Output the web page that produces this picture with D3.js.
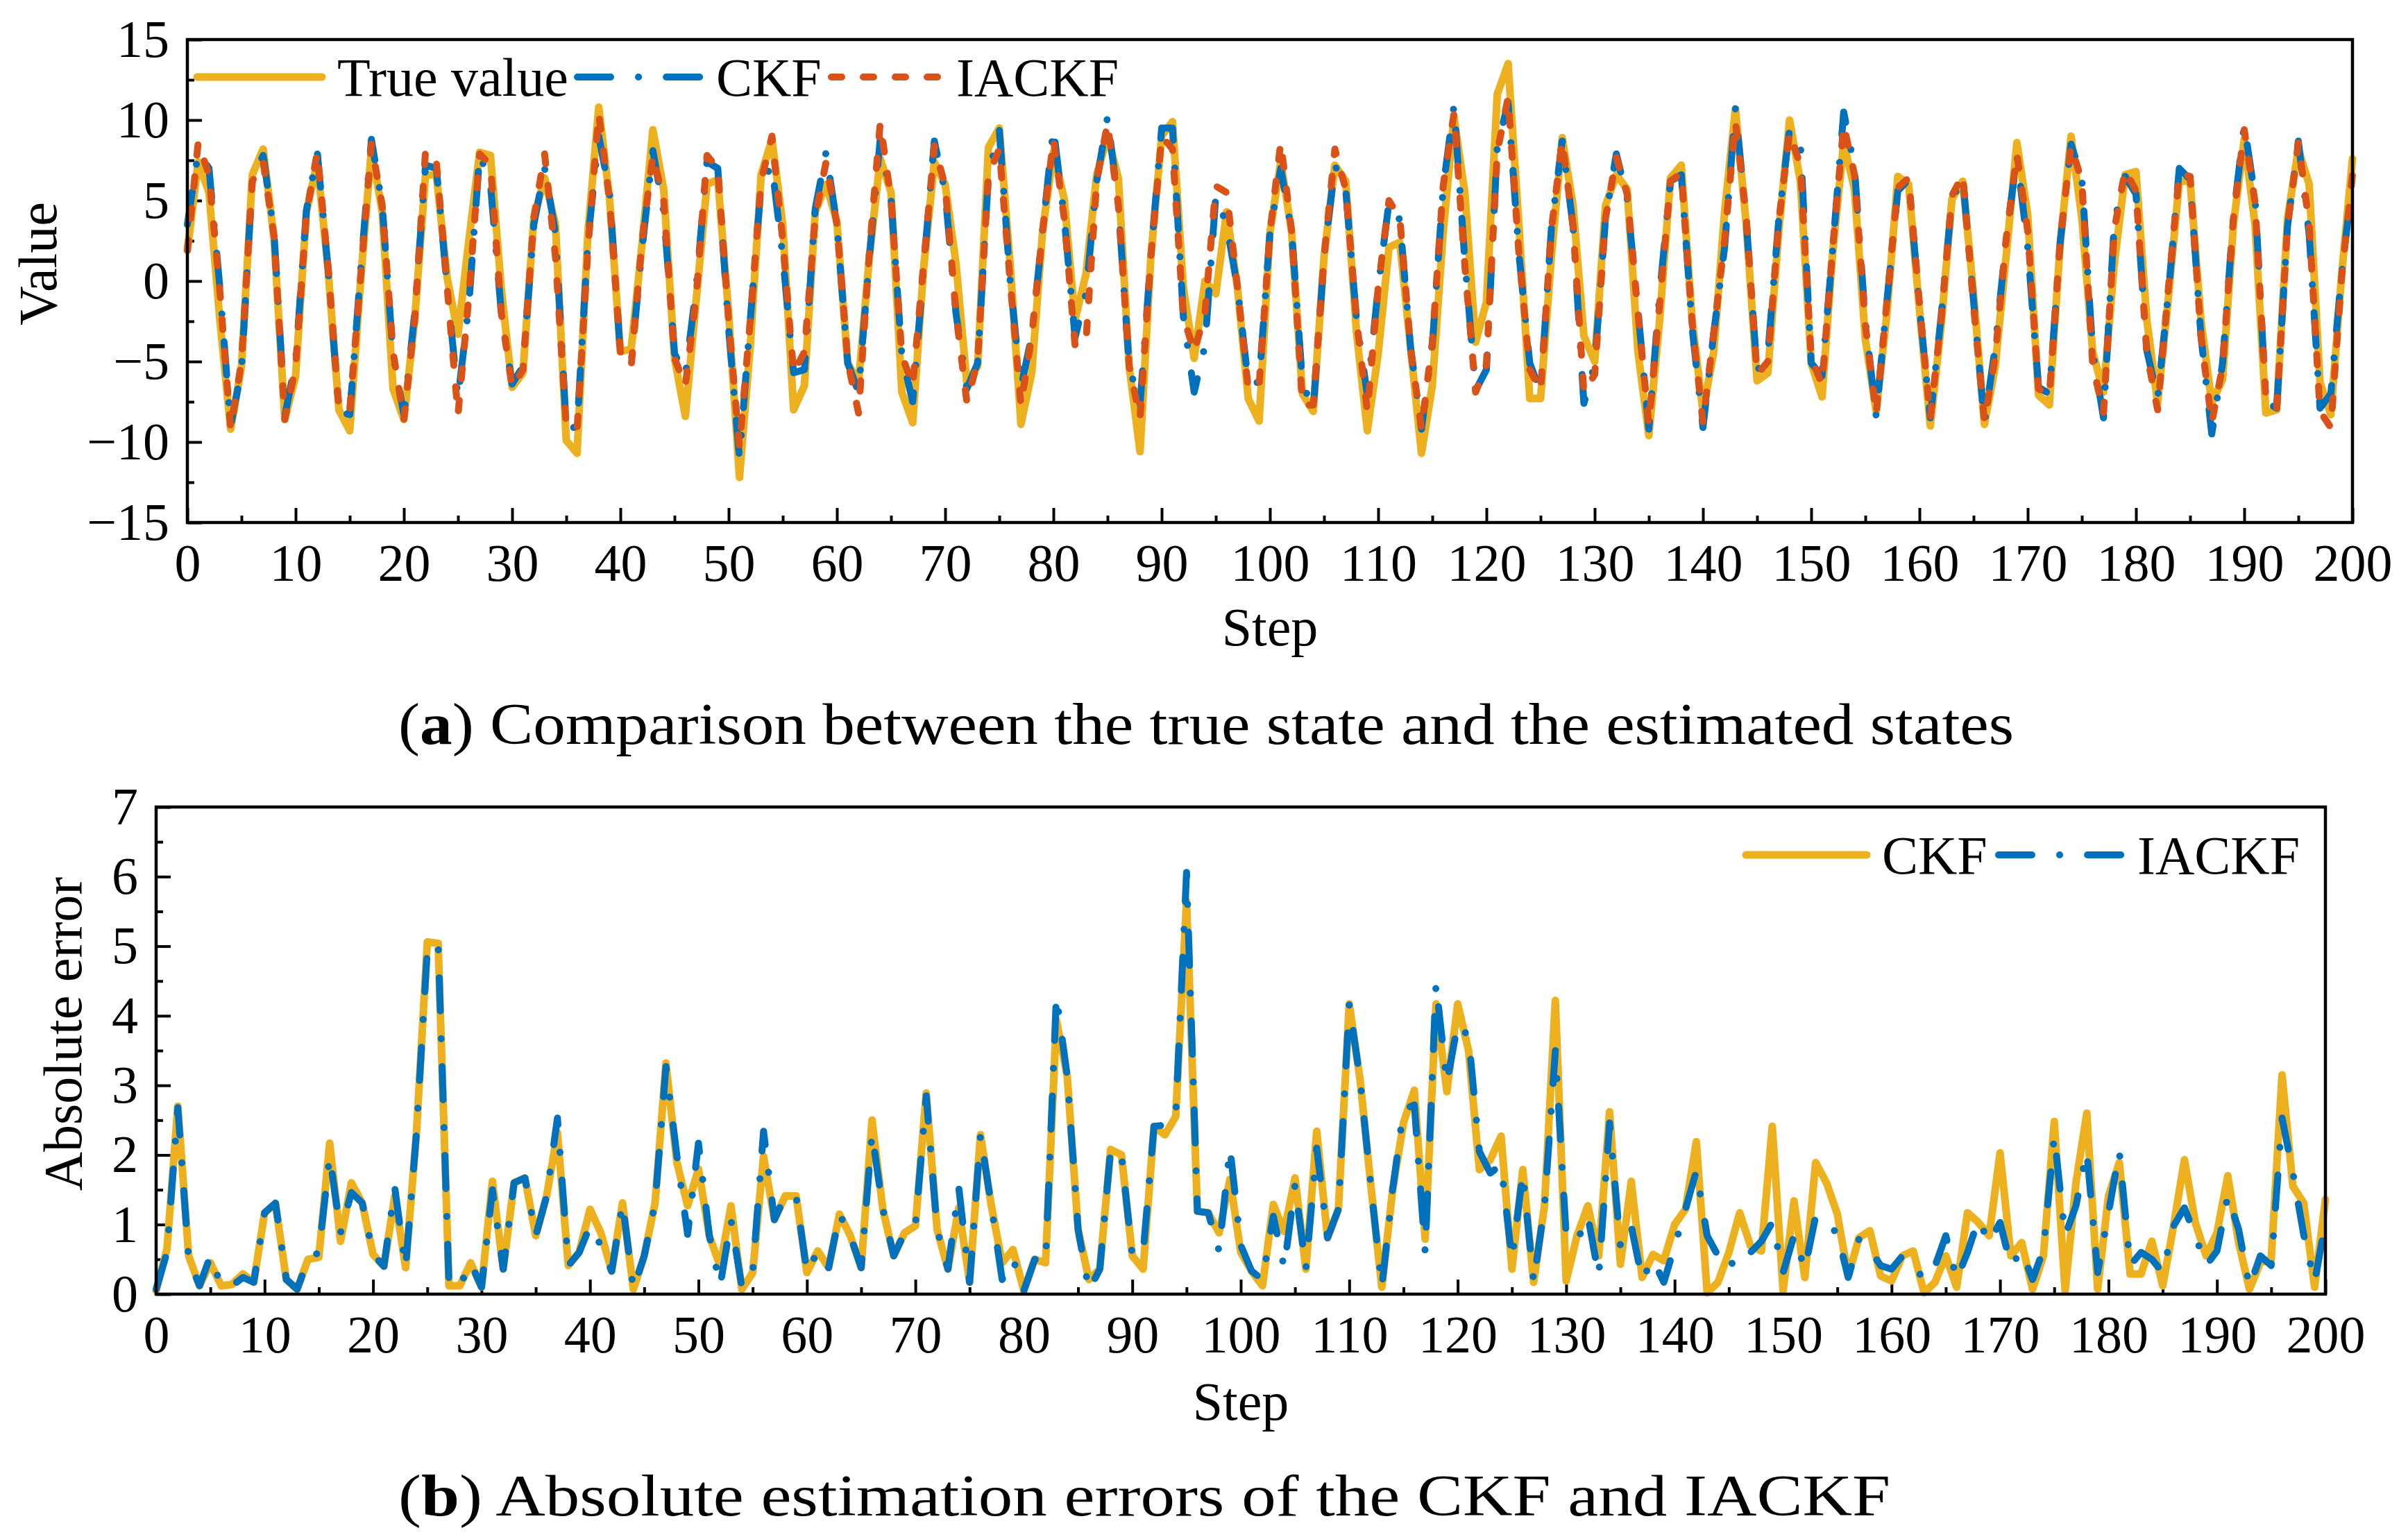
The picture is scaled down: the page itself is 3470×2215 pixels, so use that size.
<!DOCTYPE html>
<html lang="en">
<head>
<meta charset="utf-8">
<title>CKF vs IACKF</title>
<script src="https://d3js.org/d3.v7.min.js"></script>
<style>
  html, body { margin: 0; padding: 0; background: #fff; }
  svg { display: block; }
  .axis text { font-family: "Liberation Serif", "Times New Roman", serif; font-size: 76px; fill: #000; }
  .axis path, .axis line { stroke: #000; }
  .lbl { font-family: "Liberation Serif", "Times New Roman", serif; font-size: 78px; fill: #000; }
  .cap { font-family: "Liberation Serif", "Times New Roman", serif; font-size: 84px; fill: #000; }
</style>
</head>
<body>
<div id="graph"></div>
<script>
// ---- data ----
var steps = d3.range(0, 201);

var trueValue = [
  1.9, 7.4, 5.5, -2.4, -9.2, -5.3, 6.6, 8.2, 2.7, -8.6,
  -5.9, 4.3, 7.4, 0.7, -8.0, -9.3, 0.0, 8.2, 4.3, -6.7,
  -8.6, -2.4, 6.6, 6.6, 0.2, -3.3, 2.5, 8.0, 7.8, -0.5,
  -6.6, -5.7, 3.9, 6.4, 3.5, -9.9, -10.7, 3.0, 10.8, 5.1,
  -4.4, -4.2, 2.3, 9.4, 5.7, -4.8, -8.4, -1.2, 6.0, 6.3,
  -2.0, -12.2, -4.0, 6.6, 8.8, 3.5, -8.0, -6.5, 4.3, 6.0,
  3.7, -5.1, -6.3, 1.5, 7.6, 5.5, -6.9, -8.8, 0.7, 7.4,
  6.0, 1.1, -6.3, -5.3, 8.3, 9.5, 1.1, -8.9, -5.7, 3.1,
  8.0, 5.1, -2.4, 0.4, 6.6, 9.0, 6.4, -5.3, -10.6, 1.5,
  9.0, 9.9, -0.4, -4.8, 0.0, -0.8, 4.3, -0.4, -7.3, -8.7,
  3.0, 7.4, 3.1, -7.0, -8.1, 1.5, 7.2, 6.2, -3.2, -9.3,
  -4.5, 2.1, 2.4, -4.2, -10.7, -6.5, 3.0, 10.2, 5.5, -3.8,
  -1.3, 11.6, 13.5, 3.5, -7.3, -7.3, 1.5, 8.9, 4.7, -3.4,
  -5.0, 4.7, 6.6, 5.7, -4.4, -9.6, -2.4, 6.4, 7.2, -2.4,
  -8.1, -4.4, 4.3, 10.7, 3.5, -6.2, -5.7, 3.1, 10.0, 6.2,
  -5.1, -7.2, 1.9, 8.6, 5.7, -3.6, -8.1, -2.0, 6.5, 6.0,
  -1.8, -9.0, -2.8, 5.1, 6.2, -0.8, -8.9, -5.3, 1.5, 8.6,
  4.1, -7.1, -7.7, 2.3, 9.0, 3.9, -4.4, -6.9, 1.1, 6.6,
  6.8, -2.4, -7.6, -1.0, 6.2, 6.2, -2.4, -7.6, -6.1, 3.5,
  8.8, 3.5, -8.2, -8.0, 3.9, 8.2, 6.0, -6.3, -8.3, 0.4,
  7.6
];

var ckfEst = [
  3.5, 8.0, 7.0, -0.4, -9.0, -5.5, 6.4, 7.8, 3.0, -8.4,
  -5.0, 4.4, 8.0, 0.7, -8.1, -8.3, 0.6, 8.8, 4.7, -4.6,
  -8.3, -2.0, 7.2, 7.0, -0.4, -7.3, -1.5, 7.9, 6.0, -2.0,
  -6.4, -5.3, 3.5, 7.0, 3.0, -9.1, -9.1, 2.5, 9.0, 5.5,
  -4.6, -5.0, 2.0, 8.1, 4.3, -4.5, -5.9, -0.4, 7.4, 7.0,
  -3.0, -11.0, -2.4, 6.0, 7.2, 1.5, -5.7, -5.5, 4.5, 8.0,
  3.5, -5.1, -6.9, 1.5, 8.8, 5.1, -4.6, -7.5, 0.7, 8.7,
  5.5, -2.0, -6.7, -5.1, 6.6, 9.4, 0.0, -6.6, -3.4, 3.1,
  9.5, 3.9, -3.5, -0.8, 6.2, 10.2, 4.7, -5.3, -7.7, 1.5,
  9.5, 9.5, -2.2, -6.9, -4.0, 5.3, 3.5, -0.4, -6.3, -6.3,
  3.0, 7.0, 3.1, -6.3, -8.0, 1.5, 7.2, 5.7, -2.4, -7.1,
  -0.4, 4.9, 3.8, -4.2, -9.2, -4.0, 5.8, 10.9, 1.3, -6.8,
  -5.5, 8.3, 11.1, 1.7, -5.1, -6.9, 3.3, 8.7, 3.4, -7.6,
  -5.2, 3.9, 7.9, 5.1, -1.8, -9.2, -0.8, 6.2, 6.6, -2.9,
  -9.1, -3.2, 2.1, 10.7, 3.7, -5.6, -4.5, 3.8, 9.4, 8.6,
  -5.1, -5.9, 2.1, 10.5, 7.0, -2.5, -8.4, -1.2, 5.6, 6.3,
  -1.6, -8.5, -2.2, 5.1, 6.4, -1.3, -8.8, -4.1, 2.5, 7.8,
  2.1, -6.6, -7.0, 2.4, 8.5, 6.4, -4.4, -8.5, 3.7, 6.5,
  5.4, -4.3, -7.3, -0.7, 7.0, 6.3, -3.4, -9.5, -5.1, 4.0,
  9.7, 5.2, -7.5, -7.9, 3.4, 8.7, 2.9, -7.9, -7.0, 0.5,
  6.2
];

var iackfEst = [
  1.9, 8.6, 6.6, -0.6, -9.2, -5.0, 6.2, 7.4, 2.8, -8.6,
  -5.3, 4.2, 8.0, 0.9, -8.0, -8.0, 0.2, 8.5, 4.7, -4.4,
  -8.6, -2.4, 8.1, 7.4, -0.4, -8.3, -1.0, 7.9, 7.2, -2.0,
  -6.6, -5.5, 3.9, 7.9, 1.5, -9.0, -9.2, 2.0, 10.4, 5.0,
  -4.4, -5.3, 2.5, 7.8, 5.0, -4.8, -6.5, -1.0, 7.8, 7.0,
  -2.5, -10.3, -2.4, 6.2, 9.0, 2.5, -5.7, -4.4, 4.0, 7.4,
  3.5, -5.0, -8.2, 1.8, 9.8, 5.1, -4.6, -6.5, 1.0, 8.4,
  5.9, -2.0, -7.5, -5.0, 6.6, 8.2, 0.0, -7.7, -3.4, 3.1,
  8.8, 3.9, -4.0, -3.8, 6.2, 9.8, 4.7, -5.3, -8.5, 1.5,
  9.0, 8.2, -2.2, -4.4, -2.0, 5.9, 5.5, -0.4, -6.7, -6.5,
  3.0, 8.6, 3.1, -7.7, -7.7, 1.5, 8.2, 5.7, -2.4, -8.1,
  -0.4, 5.0, 3.9, -4.2, -9.2, -3.8, 5.9, 10.4, 1.0, -6.9,
  -5.2, 8.0, 11.4, 1.7, -5.5, -6.8, 3.2, 8.7, 3.4, -6.9,
  -5.8, 3.9, 7.7, 5.4, -2.0, -8.9, -1.4, 6.2, 6.7, -2.6,
  -8.8, -3.2, 2.5, 9.9, 4.0, -5.8, -5.0, 3.7, 9.2, 7.2,
  -4.8, -6.4, 2.2, 9.7, 6.6, -2.7, -8.3, -1.2, 5.8, 6.4,
  -1.4, -8.5, -2.4, 5.3, 6.6, -1.6, -8.7, -4.7, 2.6, 7.9,
  3.1, -6.7, -7.1, 2.5, 8.4, 6.2, -5.2, -8.2, 3.2, 6.9,
  5.6, -4.5, -8.0, -0.4, 6.7, 6.5, -3.4, -8.8, -5.3, 3.9,
  9.4, 4.9, -7.3, -7.9, 3.4, 8.6, 3.5, -8.1, -9.1, 0.3,
  6.6
];

var ckfErr = [
  0.05, 0.65, 2.7, 0.55, 0.12, 0.45, 0.12, 0.14, 0.29, 0.17,
  1.17, 1.3, 0.21, 0.07, 0.5, 0.53, 2.17, 0.76, 1.6, 1.31,
  0.57, 0.4, 1.41, 0.38, 2.32, 5.06, 5.04, 0.12, 0.12, 0.45,
  0.1, 1.62, 0.36, 1.6, 1.67, 0.84, 1.41, 2.32, 0.41, 0.6,
  1.22, 0.88, 0.33, 1.31, 0.07, 0.55, 1.31, 3.32, 1.9, 1.27,
  1.8, 0.84, 0.4, 1.27, 0.07, 0.31, 1.98, 1.07, 1.41, 1.41,
  0.31, 0.62, 0.38, 1.15, 0.84, 0.38, 2.5, 1.22, 0.55, 0.88,
  0.98, 2.89, 0.93, 0.36, 1.24, 0.17, 2.29, 1.27, 0.45, 0.64,
  0.05, 0.5, 0.45, 3.94, 3.13, 0.93, 0.21, 0.36, 2.08, 2.0,
  0.55, 0.36, 2.41, 2.29, 2.55, 5.65, 1.19, 1.17, 0.88, 1.65,
  0.6, 0.33, 0.12, 1.29, 0.9, 1.67, 0.36, 2.34, 0.81, 1.22,
  4.17, 3.08, 1.55, 0.1, 1.5, 2.46, 2.93, 0.79, 4.17, 2.91,
  4.17, 3.5, 1.79, 1.93, 2.27, 0.36, 1.79, 0.17, 1.27, 4.22,
  0.19, 0.84, 1.27, 0.55, 2.62, 0.43, 1.62, 0.24, 0.57, 0.48,
  1.0, 1.22, 2.19, 0.02, 0.17, 0.6, 1.17, 0.69, 0.62, 2.41,
  0.05, 1.34, 0.24, 1.89, 1.6, 1.15, 0.26, 0.81, 0.91, 0.26,
  0.19, 0.55, 0.62, 0.02, 0.17, 0.55, 0.1, 1.17, 1.03, 0.84,
  2.03, 0.55, 0.74, 0.07, 0.55, 2.48, 0.05, 1.6, 2.6, 0.07,
  1.41, 1.89, 0.29, 0.29, 0.76, 0.12, 0.98, 1.93, 1.03, 0.55,
  0.88, 1.7, 0.74, 0.07, 0.45, 0.5, 3.15, 1.55, 1.31, 0.1,
  1.36
];

var iackfErr = [
  0.07, 0.6, 2.68, 0.5, 0.12, 0.55, 0.12, 0.12, 0.24, 0.17,
  1.17, 1.31, 0.21, 0.07, 0.5, 0.6, 1.98, 0.88, 1.46, 1.31,
  0.57, 0.4, 1.53, 0.38, 2.32, 4.95, 5.04, 0.12, 0.12, 0.45,
  0.1, 1.5, 0.36, 1.6, 1.67, 0.84, 1.41, 2.53, 0.41, 0.6,
  0.98, 0.7, 0.33, 1.31, 0.07, 0.55, 1.31, 3.27, 2.0, 0.86,
  2.17, 0.84, 0.12, 1.07, 0.1, 0.31, 2.34, 1.07, 1.41, 1.41,
  0.31, 0.62, 0.38, 1.15, 0.84, 0.38, 2.31, 1.22, 0.55, 0.88,
  0.98, 2.85, 0.93, 0.36, 1.53, 0.17, 2.29, 1.27, 0.21, 0.5,
  0.05, 0.5, 0.45, 4.29, 3.13, 0.93, 0.05, 0.36, 2.08, 2.0,
  0.55, 0.6, 2.41, 2.43, 2.55, 6.06, 1.19, 1.17, 0.62, 2.1,
  0.7, 0.33, 0.21, 1.12, 0.38, 1.57, 0.36, 2.1, 0.81, 1.22,
  4.17, 3.08, 1.55, 0.1, 1.5, 2.65, 2.72, 0.6, 4.46, 3.03,
  3.89, 3.7, 2.05, 1.74, 1.86, 0.5, 1.74, 0.17, 1.27, 3.5,
  0.84, 0.76, 1.12, 0.26, 2.46, 0.69, 0.98, 0.21, 0.5, 0.17,
  0.69, 1.22, 1.77, 0.84, 0.55, 0.36, 0.64, 0.6, 0.76, 1.03,
  0.31, 0.84, 0.36, 1.12, 1.0, 0.88, 0.24, 0.79, 0.64, 0.41,
  0.36, 0.55, 0.41, 0.21, 0.4, 0.84, 0.21, 0.6, 1.07, 0.74,
  1.03, 0.41, 0.62, 0.21, 0.64, 2.27, 0.84, 1.27, 2.05, 0.31,
  1.17, 2.05, 0.41, 0.6, 0.5, 0.31, 0.98, 1.24, 0.84, 0.41,
  0.62, 1.41, 0.93, 0.1, 0.55, 0.41, 2.53, 1.75, 0.85, 0.17,
  1.03
];

var xTicks = d3.range(0, 201, 10);
var xMinor = d3.range(5, 200, 10);
var yTicksTop = [-15, -10, -5, 0, 5, 10, 15];
var yMinorTop = [-12.5, -7.5, -2.5, 2.5, 7.5, 12.5];
var yTicksBot = [0, 1, 2, 3, 4, 5, 6, 7];
var yMinorBot = [0.5, 1.5, 2.5, 3.5, 4.5, 5.5, 6.5];

var C_YEL = "#EDB120", C_BLU = "#0072BD", C_ORA = "#D95319";
var DASHDOT = "48,40,0.1,40", DASHED = "15,31";

var W = 3470, H = 2215;
var svg = d3.select("#graph").append("svg")
    .attr("width", W).attr("height", H);
svg.append("rect").attr("width", W).attr("height", H).attr("fill", "#fff");

// integer labels with a real minus sign
var fmt = d => (d < 0 ? "\u2212" : "") + Math.abs(d);

// one panel = box, ticks, labels
function panel(box, xDom, yDom, yMajor, yMinorVals) {
  var x = d3.scaleLinear().domain(xDom).range([box.l, box.r]);
  var y = d3.scaleLinear().domain(yDom).range([box.b, box.t]);
  var g = svg.append("g");

  // minor ticks
  g.append("g").attr("class", "axis")
    .attr("transform", "translate(0," + box.b + ")")
    .call(d3.axisBottom(x).tickValues(xMinor).tickSize(-10).tickFormat(""))
    .call(s => s.select(".domain").remove())
    .selectAll("line").attr("stroke-width", 4);
  g.append("g").attr("class", "axis")
    .attr("transform", "translate(" + box.l + ",0)")
    .call(d3.axisLeft(y).tickValues(yMinorVals).tickSize(-10).tickFormat(""))
    .call(s => s.select(".domain").remove())
    .selectAll("line").attr("stroke-width", 4);

  // major ticks + labels
  g.append("g").attr("class", "axis")
    .attr("transform", "translate(0," + box.b + ")")
    .call(d3.axisBottom(x).tickValues(xTicks).tickSize(-21).tickPadding(30).tickFormat(fmt))
    .call(s => s.select(".domain").remove())
    .selectAll("line").attr("stroke-width", 4);
  g.append("g").attr("class", "axis")
    .attr("transform", "translate(" + box.l + ",0)")
    .call(d3.axisLeft(y).tickValues(yMajor).tickSize(-21).tickPadding(26).tickFormat(fmt))
    .call(s => s.select(".domain").remove())
    .selectAll("line").attr("stroke-width", 4);

  return { x: x, y: y, g: g };
}

function frame(box) {
  svg.append("rect")
    .attr("x", box.l).attr("y", box.t)
    .attr("width", box.r - box.l).attr("height", box.b - box.t)
    .attr("fill", "none").attr("stroke", "#000").attr("stroke-width", 4.5);
}

function series(p, vals, color, width, dash) {
  var line = d3.line().x((d, i) => p.x(steps[i])).y(d => p.y(d));
  p.g.append("path")
    .datum(vals)
    .attr("d", line)
    .attr("fill", "none")
    .attr("stroke", color)
    .attr("stroke-width", width)
    .attr("stroke-linejoin", "round")
    .attr("stroke-linecap", "round")
    .attr("stroke-dasharray", dash || null);
}

function legendItem(x0, x1, y, color, width, dash, label) {
  svg.append("line")
    .attr("x1", x0).attr("x2", x1).attr("y1", y).attr("y2", y)
    .attr("stroke", color).attr("stroke-width", width)
    .attr("stroke-linecap", "round")
    .attr("stroke-dasharray", dash || null);
  svg.append("text").attr("class", "lbl")
    .attr("x", x1 + 22).attr("y", y + 27)
    .text(label);
}

// ---- panel (a) ----
var boxA = { l: 270, r: 3390, t: 57, b: 753 };
var pA = panel(boxA, [0, 200], [-15, 15], yTicksTop, yMinorTop);
series(pA, trueValue, C_YEL, 11);
series(pA, ckfEst, C_BLU, 10, DASHDOT);
series(pA, iackfEst, C_ORA, 10, DASHED);
frame(boxA);

legendItem(284, 464, 111, C_YEL, 11, null, "True value");
legendItem(832, 1010, 111, C_BLU, 10, DASHDOT, "CKF");
legendItem(1198, 1356, 111, C_ORA, 10, DASHED, "IACKF");

svg.append("text").attr("class", "lbl")
  .attr("text-anchor", "middle")
  .attr("x", (boxA.l + boxA.r) / 2).attr("y", 930)
  .text("Step");
svg.append("text").attr("class", "lbl")
  .attr("text-anchor", "middle")
  .attr("transform", "translate(81,380) rotate(-90)")
  .text("Value");

// ---- panel (b) ----
var boxB = { l: 225, r: 3351, t: 1163, b: 1865 };
var pB = panel(boxB, [0, 200], [0, 7], yTicksBot, yMinorBot);
series(pB, ckfErr, C_YEL, 11);
series(pB, iackfErr, C_BLU, 10, DASHDOT);
frame(boxB);

legendItem(2516, 2690, 1232, C_YEL, 11, null, "CKF");
legendItem(2880, 3058, 1232, C_BLU, 10, DASHDOT, "IACKF");

svg.append("text").attr("class", "lbl")
  .attr("text-anchor", "middle")
  .attr("x", (boxB.l + boxB.r) / 2).attr("y", 2046)
  .text("Step");
svg.append("text").attr("class", "lbl")
  .attr("text-anchor", "middle")
  .attr("transform", "translate(117,1490) rotate(-90)")
  .text("Absolute error");

// ---- captions ----
function caption(letter, rest, y, len) {
  var t = svg.append("text").attr("class", "cap")
    .attr("x", 574).attr("y", y)
    .attr("textLength", len)
    .attr("lengthAdjust", "spacingAndGlyphs");
  t.append("tspan").text("(");
  t.append("tspan").attr("font-weight", "bold").text(letter);
  t.append("tspan").text(") " + rest);
}
caption("a", "Comparison between the true state and the estimated states", 1072, 2328);
caption("b", "Absolute estimation errors of the CKF and IACKF", 2184, 2150);
</script>
</body>
</html>
